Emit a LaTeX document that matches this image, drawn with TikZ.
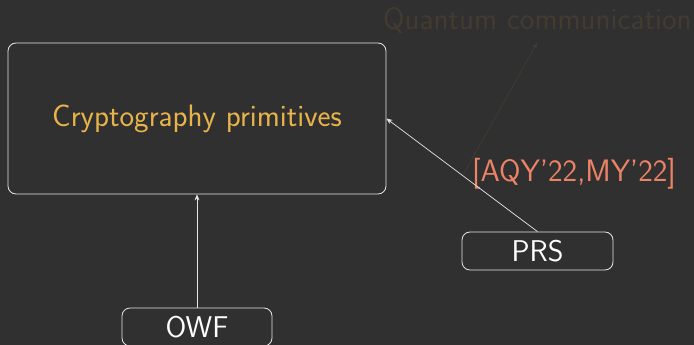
\documentclass[tikz,border=0pt]{standalone}
\usetikzlibrary{arrows.meta}
\definecolor{bgc}{HTML}{303030}
\definecolor{linec}{HTML}{E6E6E6}
\definecolor{titlec}{HTML}{E8B44A}
\definecolor{refc}{HTML}{EC8266}
\definecolor{fadec}{HTML}{423B30}
\begin{document}
\begin{tikzpicture}[x=1pt,y=-1pt,
  box/.style={draw=linec,line width=0.8pt,rounded corners=8pt,inner sep=0pt,font=\sffamily\fontsize{30}{34}\selectfont,text=white},
  conn/.style={draw=linec,line width=0.7pt,-{Stealth[length=6pt,width=5pt]}},
  faint/.style={draw=fadec,line width=0.7pt,-{Stealth[length=6pt,width=5pt]}}]
\fill[bgc] (0,0) rectangle (694,345);
\useasboundingbox (0,0) rectangle (694,345);
\node[box,minimum width=378pt,minimum height=151pt,text=titlec,font=\sffamily\fontsize{31}{35}\selectfont] (crypto) at (197,118.5) {Cryptography primitives};
\node[box,minimum width=151pt,minimum height=38pt] (prs) at (537.5,251) {PRS};
\node[box,minimum width=150pt,minimum height=38pt] (owf) at (197,327) {OWF};
\node[text=refc,font=\sffamily\fontsize{31}{35}\selectfont,inner sep=0pt] (ref) at (574,174) {[AQY'22,MY'22]};
\node[text=fadec,font=\sffamily\fontsize{31}{35}\selectfont,inner sep=0pt,anchor=west] (qc) at (383,20) {Quantum communication};
\coordinate (fstart) at (463,175);
\draw[conn] (owf.north) -- (crypto.south);
\draw[conn] (prs.north) -- (crypto.east);
\draw[faint] (fstart) -- (537,43);
\end{tikzpicture}
\end{document}
